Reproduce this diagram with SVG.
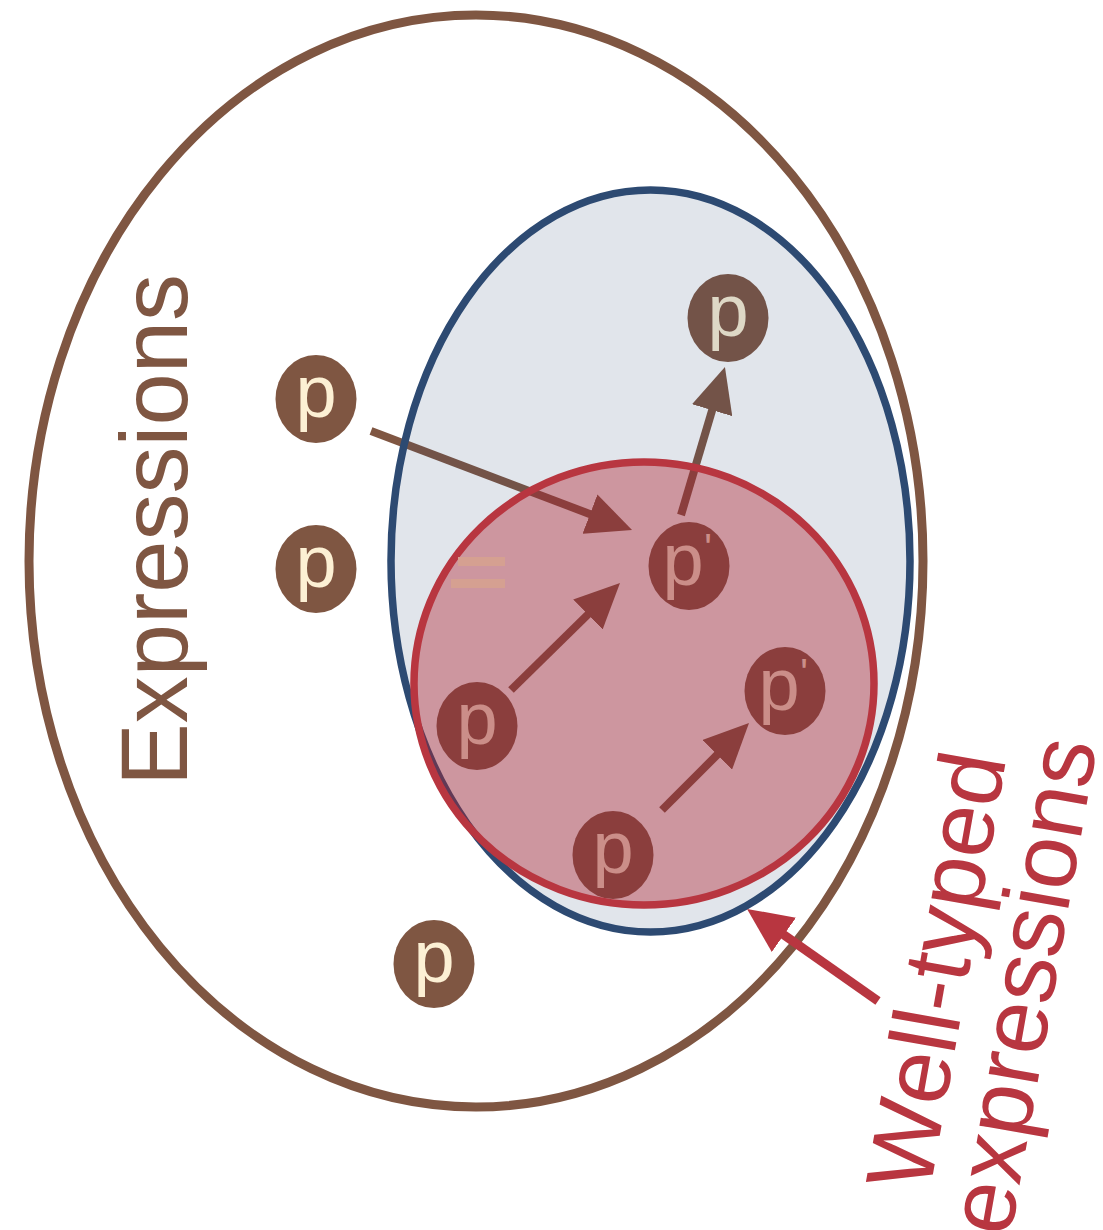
<svg xmlns="http://www.w3.org/2000/svg" width="1103" height="1230" viewBox="0 0 1103 1230">
  <defs>
    <style>
      .node { fill: #7f5642; }
      .lbl { font-family: "Liberation Sans", Arial, Helvetica, sans-serif; font-size: 74px; fill: #fcf0d4; text-anchor: middle; }
      .prime { font-size: 40px; }
      .conn { stroke: #7f5642; stroke-width: 8; fill: none; marker-end: url(#head); }
      .title { font-family: "Liberation Sans", Arial, Helvetica, sans-serif; font-size: 94px; text-anchor: middle; }
    </style>
    <marker id="head" markerUnits="userSpaceOnUse" viewBox="0 0 46 42" markerWidth="46" markerHeight="42" refX="15" refY="21" orient="auto">
      <path d="M0,0 L45,21 L0,42 Z" fill="#7f5642"/>
    </marker>
    <marker id="head-red" markerUnits="userSpaceOnUse" viewBox="0 0 46 42" markerWidth="46" markerHeight="42" refX="15" refY="21" orient="auto">
      <path d="M0,0 L45,21 L0,42 Z" fill="#b83640"/>
    </marker>
  </defs>

  <rect x="0" y="0" width="1103" height="1230" fill="#ffffff"/>

  <!-- outer set: all expressions -->
  <g id="expressions">
    <ellipse cx="476" cy="561" rx="447" ry="546" fill="none" stroke="#7f5642" stroke-width="9"/>
    <text class="title" fill="#7f5642" transform="translate(187,530) rotate(-90)">Expressions</text>
  </g>

  <!-- reduction steps -->
  <g id="connectors">
    <line class="conn" x1="371" y1="431" x2="604" y2="519.4"/>
    <line class="conn" x1="681" y1="515" x2="716.4" y2="395.8"/>
    <line class="conn" x1="511" y1="690" x2="598.6" y2="604"/>
    <line class="conn" x1="662" y1="810" x2="727.8" y2="744.2"/>
  </g>

  <!-- programs -->
  <g id="p1"><ellipse class="node" cx="316" cy="399" rx="40.5" ry="44"/><text class="lbl" x="316" y="417">p</text></g>
  <g id="p2"><ellipse class="node" cx="316" cy="569" rx="40.5" ry="44"/><text class="lbl" x="316" y="587">p</text></g>
  <g id="p3"><ellipse class="node" cx="434" cy="964" rx="40.5" ry="44"/><text class="lbl" x="434" y="982">p</text></g>
  <g id="p4"><ellipse class="node" cx="728" cy="318" rx="40.5" ry="44"/><text class="lbl" x="728" y="336">p</text></g>
  <g id="p5"><ellipse class="node" cx="689" cy="566" rx="40.5" ry="44"/><text class="lbl" x="683" y="585">p<tspan class="prime" x="708" y="562">'</tspan></text></g>
  <g id="p6"><ellipse class="node" cx="477" cy="726" rx="40.5" ry="44"/><text class="lbl" x="477" y="744">p</text></g>
  <g id="p7"><ellipse class="node" cx="785" cy="691" rx="40.5" ry="44"/><text class="lbl" x="779" y="710">p<tspan class="prime" x="804" y="687">'</tspan></text></g>
  <g id="p8"><ellipse class="node" cx="613" cy="855" rx="40.5" ry="44"/><text class="lbl" x="613" y="873">p</text></g>

  <!-- typed subset (tinted overlay) -->
  <g id="typed">
    <ellipse cx="650.5" cy="561" rx="259.5" ry="371" fill="#2d4a72" fill-opacity="0.14" stroke="#2d4a72" stroke-width="7.5"/>
  </g>

  <!-- well-typed subset (tinted overlay) -->
  <g id="well-typed">
    <ellipse cx="644" cy="683.5" rx="230" ry="221.5" fill="#b0202c" fill-opacity="0.4" stroke="#b83640" stroke-width="7.5"/>
    <rect x="458" y="557" width="47" height="9" fill="#d5a091"/>
    <rect x="451" y="579" width="54" height="9" fill="#d5a091"/>
  </g>

  <!-- callout for the well-typed set -->
  <g id="callout">
    <line x1="878" y1="1001" x2="771.6" y2="926.2" stroke="#b83640" stroke-width="9" marker-end="url(#head-red)"/>
    <g transform="translate(968,976) rotate(-80)">
      <text class="title" fill="#b83640" x="0" y="0">Well-typed</text>
      <text class="title" fill="#b83640" x="0" y="87">expressions</text>
    </g>
  </g>
</svg>
